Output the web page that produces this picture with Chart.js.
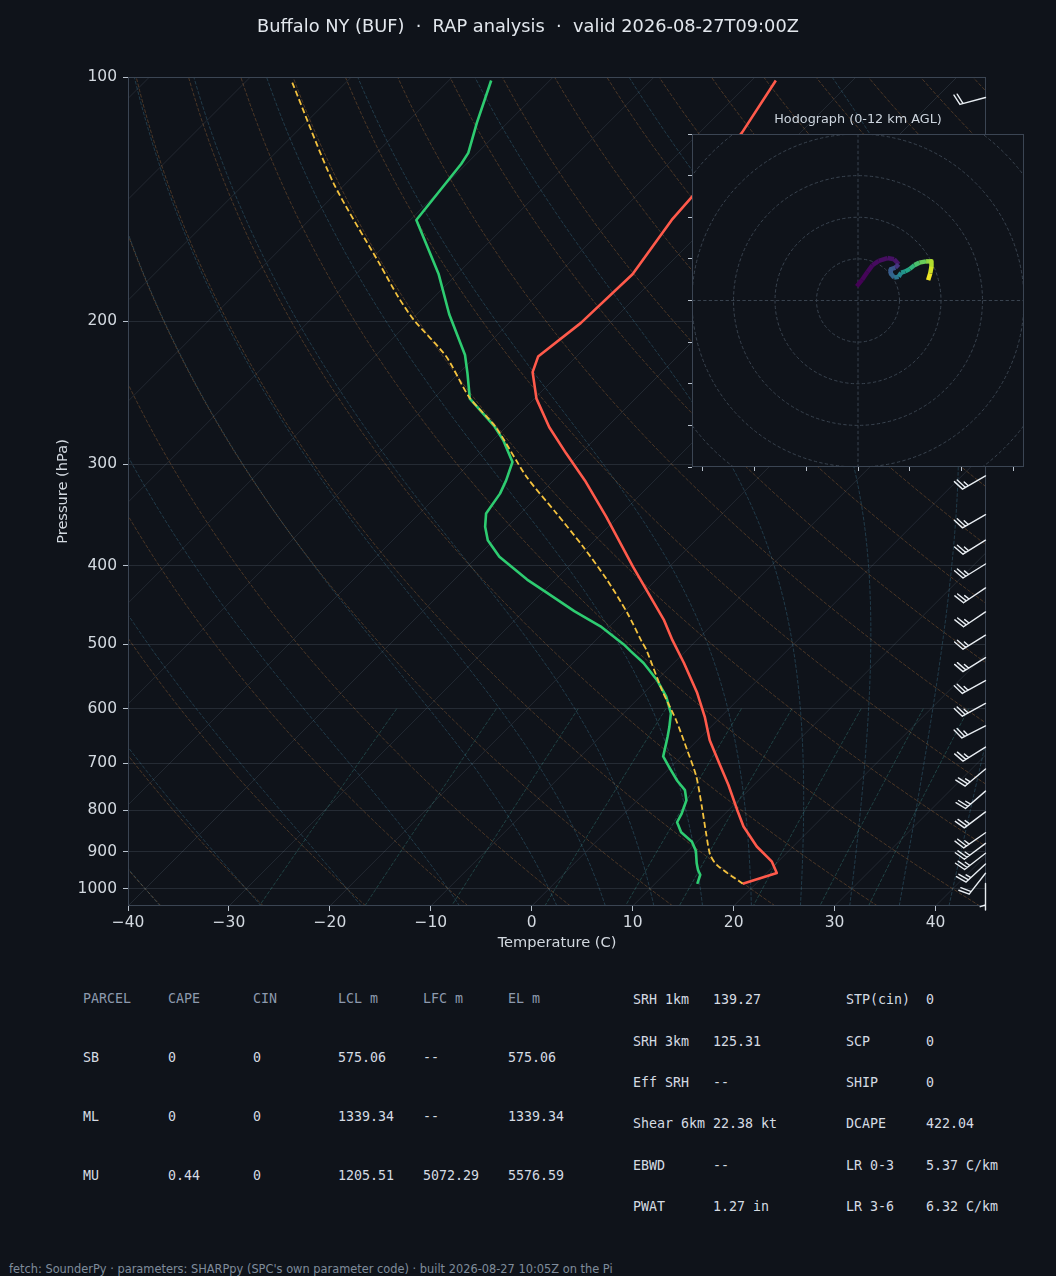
<!DOCTYPE html>
<html><head><meta charset="utf-8">
<script src="https://cdn.jsdelivr.net/npm/chart.js@4.4.1/dist/chart.umd.min.js"></script>
<style>
html,body{margin:0;padding:0;background:#0f131a;}
body{width:1056px;height:1276px;position:relative;overflow:hidden;font-family:"DejaVu Sans",sans-serif;}
#skew{position:absolute;left:0;top:0;}
#hodo{position:absolute;left:672px;top:108px;}
.c{position:absolute;font-family:"DejaVu Sans Mono",monospace;font-size:13.3px;line-height:16px;white-space:pre;color:#d5dbe3;}
.h{color:#8d9aae;}
#foot{position:absolute;left:9px;top:1262px;font-size:11.4px;line-height:14px;color:#7f8c9b;white-space:pre;}
</style></head>
<body>
<canvas id="skew" width="1056" height="960"></canvas>
<canvas id="hodo" width="360" height="372"></canvas>
<div id="tables"></div>
<div id="foot">fetch: SounderPy · parameters: SHARPpy (SPC's own parameter code) · built 2026-08-27 10:05Z on the Pi</div>
<script>
// ---------------- data ----------------
const TITLE = 'Buffalo NY (BUF)  \u00b7  RAP analysis  \u00b7  valid 2026-08-27T09:00Z';
const P_TICKS = [100,200,300,400,500,600,700,800,900,1000];
const T_TICKS = [-40,-30,-20,-10,0,10,20,30,40];

const TEMP_P = [101,117,140,150,175,201,221,231,249,270,291,314,348,401,466,494,527,574,614,656,700,745,799,838,887,926,956,986];
const TEMP_C = [-57.6,-55.8,-54.4,-54.1,-52.6,-52.9,-53.8,-52.8,-49.8,-45.7,-41.4,-36.9,-31.2,-23.6,-15.3,-12.4,-9.0,-4.7,-1.6,1.2,4.4,7.5,10.8,13.1,16.4,19.4,21.0,18.7];

const DEWP_P = [101,114,124,128,150,175,196,220,232,249,269,280,298,314,326,345,358,372,390,416,432,455,475,500,510,527,553,580,608,632,650,662,687,710,736,756,778,808,828,852,875,898,930,948,961,986];
const DEWP_C = [-85.8,-83.0,-80.9,-80.5,-79.4,-71.8,-66.8,-61.2,-59.1,-56.4,-51.3,-49.0,-45.9,-44.7,-44.0,-43.4,-42.2,-40.6,-37.8,-32.8,-29.5,-25.0,-20.9,-16.8,-15.4,-13.0,-10.0,-7.4,-5.3,-4.1,-3.3,-2.8,-1.8,0.0,2.0,3.7,4.85,5.7,6.1,7.5,9.5,10.8,12.1,12.9,13.6,14.2];

const PARCEL_P = [101.6,135,170.5,186.5,199,221,248,270,311,345,379,416,457,496,508,569,620,674,726,792,855,908,935,986];
const PARCEL_C = [-105.3,-91.3,-78.5,-73.6,-69.8,-62.9,-56.6,-51.0,-43.0,-36.4,-30.5,-24.9,-19.6,-15.3,-14.0,-8.5,-4.1,-0.1,3.4,7.0,10.1,12.6,14.3,18.7];

const BARB_P   = [106,310,346,372,398,426,456,487,519,554,591,630,669,712,758,804,853,879,904,932,957,985];
const BARB_DIR = [255,240,240,238,238,236,236,238,238,241,241,243,238,230,229,233,235,233,232,227,218,180];
const BARB_KT  = [20,25,25,25,25,25,25,25,25,25,25,25,25,25,25,25,25,25,25,25,20,5];

const HODO_U = [-0.3,1.0,2.3,3.5,5.0,7.1,8.7,9.8,9.0,7.8,7.9,8.7,9.8,10.4,11.4,12.5,13.6,14.8,16.4,17.7,17.7,17.4,16.9];
const HODO_V = [3.4,5.0,6.9,8.5,9.5,10.2,9.9,8.7,7.9,7.5,6.5,5.5,5.7,6.7,7.0,7.6,8.5,9.1,9.4,9.4,8.1,6.5,4.9];
const HODO_Z = [0,0.1,0.2,0.3,0.4,0.5,0.6,0.8,2.8,3.2,3.6,4.2,5.0,5.8,6.5,7.4,8.2,8.9,9.6,10.3,10.9,11.5,12.0];
const HODO_RINGS = [10,20,30,40,50,60];
const HODO_XTICKS = [-37.5,-25,-12.5,0,12.5,25,37.5];
const HODO_YTICKS = [-40,-30,-20,-10,0,10,20,30,40];

const PARCEL_HEAD = ['PARCEL','CAPE','CIN','LCL m','LFC m','EL m'];
const PARCEL_ROWS = [
  ['SB','0','0','575.06','--','575.06'],
  ['ML','0','0','1339.34','--','1339.34'],
  ['MU','0.44','0','1205.51','5072.29','5576.59']];
const PARAM_ROWS = [
  ['SRH 1km','139.27','STP(cin)','0'],
  ['SRH 3km','125.31','SCP','0'],
  ['Eff SRH','--','SHIP','0'],
  ['Shear 6km','22.38 kt','DCAPE','422.04'],
  ['EBWD','--','LR 0-3','5.37 C/km'],
  ['PWAT','1.27 in','LR 3-6','6.32 C/km']];

// ---------------- styles ----------------
const BG='#0f131a', TXT='#d3d9e0', TICK='#b9c2cd', FRAME='#3b4553';
const GRID='rgba(150,165,185,0.17)', ISO='rgba(150,165,185,0.15)';
const DRY='rgba(196,128,64,0.33)', MOIST='rgba(70,140,170,0.33)', MIX='rgba(60,150,140,0.36)';
const RED='#ff5a4b', GREEN='#2ecc71', YELLOW='#f4c23e', BARB='#e8edf2', RING='#39434f';
const VIRIDIS=['#440154','#482475','#414487','#355f8d','#2a788e','#21918c','#22a884','#44bf70','#7ad151','#bddf26','#fde725'];

// ---------------- skew-T geometry ----------------
const P_BOT=1050, P_TOP=100, T_MIN=-40, T_MAX=45;
const SKEW = 829/858*(T_MAX-T_MIN);   // 45-degree isotherms for the plot box
function skewX(t,p){ return t + SKEW*Math.log(P_BOT/p)/Math.log(P_BOT/P_TOP); }
function line(ps,ts){ return ps.map((p,i)=>({x:skewX(ts[i],p), y:p})); }

// thermodynamic reference curves (background grid)
const RD=287.04749, CP=1004.6662, LV=2.50084e6, EPS=0.621957, KAPPA=RD/CP;
function es(TK){ return 6.112*Math.exp(17.67*(TK-273.15)/(TK-29.65)); }
function dTdlnp(TK,p){ const e=es(TK), rs=EPS*e/(p-e); return (RD*TK+LV*rs)/(CP+LV*LV*rs*EPS/(RD*TK*TK)); }
function moistFrom1000(TK,p){
  const a=Math.log(1000), b=Math.log(p); const n=Math.max(4,Math.ceil(Math.abs(b-a)/0.01)); const h=(b-a)/n;
  let T=TK, x=a;
  for(let i=0;i<n;i++){
    const k1=dTdlnp(T,Math.exp(x)), k2=dTdlnp(T+h*k1/2,Math.exp(x+h/2)), k3=dTdlnp(T+h*k2/2,Math.exp(x+h/2)), k4=dTdlnp(T+h*k3,Math.exp(x+h));
    T+=h*(k1+2*k2+2*k3+k4)/6; x+=h;
  }
  return T;
}
const PS=[]; for(let i=0;i<=60;i++){ PS.push(P_BOT*Math.pow(P_TOP/P_BOT,i/60)); }
const refSets=[];
function addRef(data,color,dash,order){ refSets.push({data,borderColor:color,borderWidth:1,borderDash:dash,pointRadius:0,showLine:true,order,fill:false,tension:0}); }
for(let t=-120;t<=40;t+=10){ addRef([{x:skewX(t,P_BOT),y:P_BOT},{x:skewX(t,P_TOP),y:P_TOP}],ISO,[],30); }
for(let t0=T_MIN;t0<=T_MAX+201;t0+=10){ const th=t0+273.15; addRef(PS.map(p=>({x:skewX(th*Math.pow(p/1000,KAPPA)-273.15,p),y:p})),DRY,[3.7,1.6],20); }
const MOIST_T0=[-40,-30,-20,-10]; for(let t=0;t<=T_MAX+50;t+=5) MOIST_T0.push(t);
for(const t0 of MOIST_T0){ addRef(PS.map(p=>({x:skewX(moistFrom1000(t0+273.15,p)-273.15,p),y:p})),MOIST,[3.7,1.6],21); }
const MIX_W=[0.0004,0.001,0.002,0.004,0.007,0.01,0.016,0.024,0.032];
const PM=[]; for(let i=0;i<=30;i++) PM.push(600+(P_BOT-600)*i/30);
for(const w of MIX_W){ addRef(PM.map(p=>{const e=p*w/(EPS+w), l=Math.log(e/6.112); return {x:skewX(243.5*l/(17.67-l),p),y:p};}),MIX,[3.7,1.6],22); }

// ---------------- plugins ----------------
function drawBarb(ctx,x0,y0,dir,kt,L){
  const r=dir*Math.PI/180, dx=Math.sin(r), dy=-Math.cos(r), px=-dy, py=dx;
  const fh=0.4*L, fw=0.25*L, sp=0.125*L;
  let s=Math.round(kt/5)*5; const full=Math.floor(s/10); const half=(s-full*10)>=5;
  ctx.beginPath(); ctx.moveTo(x0,y0); ctx.lineTo(x0+L*dx,y0+L*dy);
  let off=L;
  for(let k=0;k<full;k++){ const bx=x0+off*dx, by=y0+off*dy; ctx.moveTo(bx,by); ctx.lineTo(bx+fh*px+fw/2*dx,by+fh*py+fw/2*dy); off-=sp; }
  if(half){ if(off===L) off-=1.5*sp; const bx=x0+off*dx, by=y0+off*dy; ctx.moveTo(bx,by); ctx.lineTo(bx+fh/2*px+fw/4*dx,by+fh/2*py+fw/4*dy); }
  ctx.stroke();
}
const skewDecor={id:'skewDecor',
  afterDatasetsDraw(chart){
    const {ctx,chartArea:a,scales:{y}}=chart;
    ctx.save(); ctx.strokeStyle=FRAME; ctx.lineWidth=1; ctx.strokeRect(a.left+0.5,a.top+0.5,a.width-1,a.height-1); ctx.restore();
    ctx.save(); ctx.strokeStyle=BARB; ctx.lineWidth=1.4; ctx.lineCap='round'; ctx.lineJoin='round';
    for(let i=0;i<BARB_P.length;i++) drawBarb(ctx,a.right-0.5,y.getPixelForValue(BARB_P[i]),BARB_DIR[i],BARB_KT[i],26.5);
    ctx.restore();
  }};
function hex(c){ return [parseInt(c.slice(1,3),16),parseInt(c.slice(3,5),16),parseInt(c.slice(5,7),16)]; }
function viridis(t){ t=Math.min(1,Math.max(0,t)); const f=t*10, i=Math.min(9,Math.floor(f)), u=f-i; const A=hex(VIRIDIS[i]), B=hex(VIRIDIS[i+1]); return 'rgb('+A.map((v,k)=>Math.round(v+(B[k]-v)*u)).join(',')+')'; }
const hodoDecor={id:'hodoDecor',
  beforeDraw(chart){ const {ctx,chartArea:a}=chart; ctx.save(); ctx.fillStyle=BG; ctx.fillRect(a.left,a.top,a.width,a.height); ctx.restore(); },
  beforeDatasetsDraw(chart){
    const {ctx,chartArea:a,scales:{x,y}}=chart;
    ctx.save(); ctx.beginPath(); ctx.rect(a.left,a.top,a.width,a.height); ctx.clip();
    ctx.strokeStyle=RING; ctx.lineWidth=1; ctx.setLineDash([3.3,2.3]);
    const cx=x.getPixelForValue(0), cy=y.getPixelForValue(0);
    for(const r of HODO_RINGS){ const rx=Math.abs(x.getPixelForValue(r)-cx), ry=Math.abs(y.getPixelForValue(r)-cy); ctx.beginPath(); ctx.ellipse(cx,cy,rx,ry,0,0,2*Math.PI); ctx.stroke(); }
    ctx.beginPath(); ctx.moveTo(a.left,cy); ctx.lineTo(a.right,cy); ctx.moveTo(cx,a.top); ctx.lineTo(cx,a.bottom); ctx.stroke();
    ctx.restore();
  },
  afterDraw(chart){ const {ctx,chartArea:a}=chart; ctx.save(); ctx.strokeStyle=FRAME; ctx.lineWidth=1; ctx.strokeRect(a.left+0.5,a.top+0.5,a.width-1,a.height-1); ctx.restore(); }};

// ---------------- charts ----------------
Chart.defaults.font.family='"DejaVu Sans", sans-serif';
Chart.defaults.color=TXT;
const minus=v=>String(v).replace('-','\u2212');

const profiles=[
  {label:'Parcel',data:line(PARCEL_P,PARCEL_C),borderColor:YELLOW,borderWidth:1.8,borderDash:[6,3],order:0,tension:0.25},
  {label:'Temperature',data:line(TEMP_P,TEMP_C),borderColor:RED,borderWidth:2.6,order:1},
  {label:'Dewpoint',data:line(DEWP_P,DEWP_C),borderColor:GREEN,borderWidth:2.6,order:2}
].map(d=>Object.assign({showLine:true,pointRadius:0,fill:false,tension:0,borderJoinStyle:'round'},d));

new Chart(document.getElementById('skew'),{
  type:'scatter',
  data:{datasets:profiles.concat(refSets)},
  options:{responsive:false,animation:false,events:[],
    layout:{padding:{left:70,right:70,top:0,bottom:0}},
    plugins:{legend:{display:false},tooltip:{enabled:false},
      title:{display:true,text:TITLE,color:'#e2e7ed',font:{size:17.8,weight:'normal'},padding:{top:17,bottom:38.64}}},
    scales:{
      x:{type:'linear',min:T_MIN,max:T_MAX,
        afterBuildTicks:s=>{s.ticks=T_TICKS.map(v=>({value:v}));},
        afterFit:s=>{s.height=54;},
        ticks:{color:TXT,font:{size:15.5},padding:3,maxRotation:0,autoSkip:false,callback:minus},
        grid:{drawOnChartArea:false,drawTicks:true,tickLength:5,tickColor:TICK,tickWidth:1},
        border:{display:false},
        title:{display:true,text:'Temperature (C)',color:TXT,font:{size:14.6},padding:{top:0,bottom:8.3}}},
      y:{type:'logarithmic',min:P_TOP,max:P_BOT,reverse:true,
        afterBuildTicks:s=>{s.ticks=P_TICKS.map(v=>({value:v}));},
        afterFit:s=>{s.width=58;},
        ticks:{color:TXT,font:{size:15.5},padding:6,autoSkip:false,callback:v=>String(v)},
        grid:{color:GRID,lineWidth:1,drawTicks:true,tickLength:5,tickColor:TICK,tickWidth:1},
        border:{display:false},
        title:{display:true,text:'Pressure (hPa)',color:TXT,font:{size:14.6},padding:{top:-15.76,bottom:0}}}
    }},
  plugins:[skewDecor]
});

new Chart(document.getElementById('hodo'),{
  type:'scatter',
  data:{datasets:[{data:HODO_U.map((u,i)=>({x:u,y:HODO_V[i]})),showLine:true,pointRadius:0,borderWidth:4.5,
    borderColor:viridis(0),borderCapStyle:'butt',borderJoinStyle:'round',
    segment:{borderColor:c=>viridis((HODO_Z[c.p0DataIndex]+HODO_Z[c.p1DataIndex])/2/12)}}]},
  options:{responsive:false,animation:false,events:[],
    layout:{padding:{left:0,right:8,top:0,bottom:0}},
    plugins:{legend:{display:false},tooltip:{enabled:false},
      title:{display:true,fullSize:false,text:'Hodograph (0-12 km AGL)',color:'#cdd5de',font:{size:12.8,weight:'normal'},padding:{top:4.32,bottom:6.32}}},
    scales:{
      x:{type:'linear',min:-40,max:40,afterBuildTicks:s=>{s.ticks=HODO_XTICKS.map(v=>({value:v}));},afterFit:s=>{s.height=13;},
        ticks:{display:false},grid:{drawOnChartArea:false,drawTicks:true,tickLength:4,tickColor:TICK},border:{display:false}},
      y:{type:'linear',min:-40,max:40,afterBuildTicks:s=>{s.ticks=HODO_YTICKS.map(v=>({value:v}));},afterFit:s=>{s.width=20;},
        ticks:{display:false},grid:{drawOnChartArea:false,drawTicks:true,tickLength:4,tickColor:TICK},border:{display:false}}
    }},
  plugins:[hodoDecor]
});

// ---------------- tables (text) ----------------
const tb=document.getElementById('tables');
function cell(txt,x,yc,cls){ const d=document.createElement('div'); d.className='c'+(cls?' '+cls:''); d.textContent=txt; d.style.left=(x-1)+'px'; d.style.top=(yc-8)+'px'; tb.appendChild(d); }
const LCOLS=[84,169,254,339,424,509], LROWS=[999,1058,1117,1176];
PARCEL_HEAD.forEach((t,i)=>cell(t,LCOLS[i],LROWS[0],'h'));
PARCEL_ROWS.forEach((r,j)=>r.forEach((t,i)=>cell(t,LCOLS[i],LROWS[j+1])));
const RCOLS=[634,714,847,927], RROWS=[1000,1041.7,1082.7,1124.3,1166,1207.3];
PARAM_ROWS.forEach((r,j)=>r.forEach((t,i)=>cell(t,RCOLS[i],RROWS[j])));
</script>
</body></html>
